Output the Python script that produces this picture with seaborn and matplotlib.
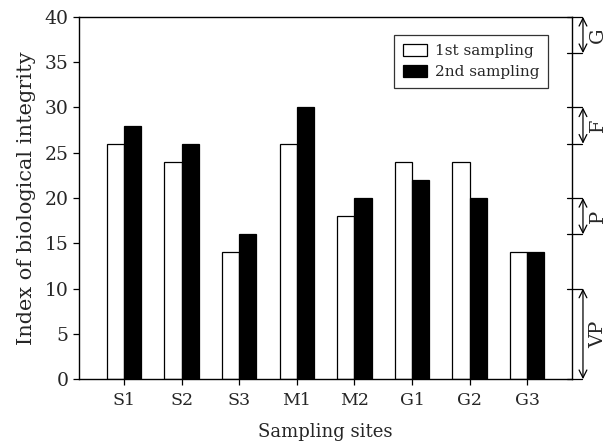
import matplotlib
matplotlib.use("Agg")
import matplotlib.pyplot as plt
import matplotlib.transforms as mtransforms
import seaborn as sns
import pandas as pd

sites = ["S1", "S2", "S3", "M1", "M2", "G1", "G2", "G3"]
first_sampling = [26, 24, 14, 26, 18, 24, 24, 14]
second_sampling = [28, 26, 16, 30, 20, 22, 20, 14]
series_names = ["1st sampling", "2nd sampling"]
class_labels = ["G", "F", "P", "VP"]
class_low = [36, 26, 16, 0]
class_high = [40, 30, 20, 10]

df = pd.DataFrame({
    "site": sites * 2,
    "value": first_sampling + second_sampling,
    "sampling": [series_names[0]] * len(sites) + [series_names[1]] * len(sites),
})

sns.set_theme(style="ticks")
plt.rcParams["font.family"] = ["DejaVu Serif"]

fig = plt.figure(figsize=(6.08, 4.44), dpi=100)
ax = fig.add_axes([0.130, 0.146, 0.811, 0.816])

sns.barplot(data=df, x="site", y="value", hue="sampling", order=sites,
            hue_order=series_names,
            palette={series_names[0]: "white", series_names[1]: "black"},
            edgecolor="black", linewidth=0.9, width=0.6, ax=ax,
            errorbar=None, saturation=1)

ax.set_xlim(-0.78, 7.78)
ax.set_ylim(0, 40)
ax.set_yticks(range(0, 41, 5))
ax.set_xlabel("Sampling sites", fontsize=13, labelpad=10)
ax.set_ylabel("Index of biological integrity", fontsize=15, labelpad=6)
ax.tick_params(axis="both", direction="out", length=4,
               width=0.9, color="black")
ax.tick_params(axis="y", labelsize=13.5)
ax.tick_params(axis="x", labelsize=12.5, pad=5)
for s in ax.spines.values():
    s.set_linewidth(1.0)
    s.set_color("black")
    s.set_visible(True)

leg = ax.legend(loc="upper right", fontsize=11, frameon=True, fancybox=False,
                edgecolor="black", borderpad=0.55, handlelength=1.6,
                handleheight=0.9, handletextpad=0.5, labelspacing=0.4,
                bbox_to_anchor=(0.966, 0.97))
leg.get_frame().set_linewidth(0.9)
leg.set_title(None)

trans = mtransforms.blended_transform_factory(ax.transAxes, ax.transData)
bounds = sorted(set(class_low + class_high))
for b in bounds:
    ax.plot([0.99, 1.02], [b, b], transform=trans, color="black", lw=0.9,
            clip_on=False)
for lab, lo, hi in zip(class_labels, class_low, class_high):
    ax.annotate("", xy=(1.022, lo), xytext=(1.022, hi), xycoords=trans,
                textcoords=trans,
                arrowprops=dict(arrowstyle="<->", color="black", lw=0.9,
                                shrinkA=0, shrinkB=0, mutation_scale=14))
    ax.text(1.052, (lo + hi) / 2, lab, transform=trans, rotation=90,
            ha="center", va="center", fontsize=14)

fig.savefig("out.png", dpi=100)
